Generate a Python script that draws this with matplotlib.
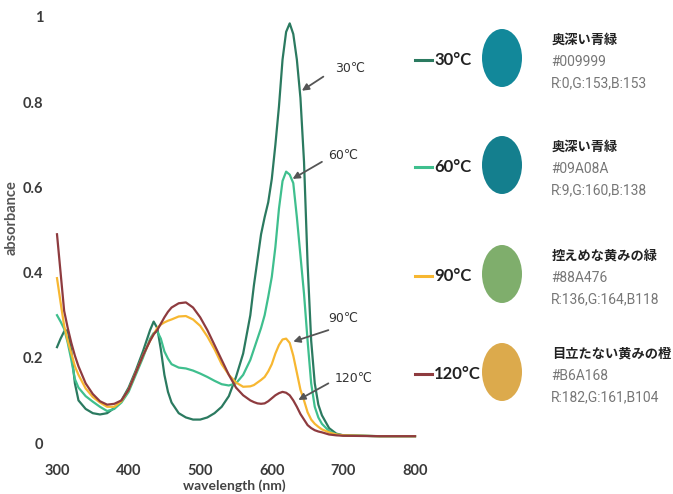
import matplotlib
matplotlib.use("Agg")
import matplotlib.pyplot as plt
from matplotlib.patches import Ellipse

# ---------------- data ----------------
wavelength = [300, 305, 310, 315, 320, 325, 330, 340, 350, 360, 370, 380, 390, 400, 410, 420,
              430, 435, 440, 445, 450, 455, 460, 470, 480, 490, 500, 510, 520, 530, 540, 550,
              560, 570, 575, 580, 585, 590, 595, 600, 605, 610, 615, 620, 625, 630, 635, 640,
              645, 650, 655, 660, 665, 670, 680, 690, 700, 750, 800]

abs_30 = [0.225, 0.245, 0.262, 0.265, 0.215, 0.14, 0.10, 0.08, 0.07, 0.067, 0.07, 0.082, 0.10, 0.13, 0.17, 0.215,
          0.265, 0.285, 0.27, 0.22, 0.16, 0.12, 0.095, 0.07, 0.06, 0.055, 0.055, 0.06, 0.07, 0.085, 0.11, 0.155,
          0.21, 0.30, 0.37, 0.43, 0.49, 0.53, 0.565, 0.62, 0.70, 0.79, 0.90, 0.965, 0.985, 0.96, 0.90, 0.81,
          0.66, 0.42, 0.24, 0.14, 0.09, 0.065, 0.035, 0.022, 0.018, 0.016, 0.016]

abs_60 = [0.30, 0.285, 0.268, 0.235, 0.195, 0.15, 0.13, 0.11, 0.097, 0.085, 0.075, 0.08, 0.095, 0.12, 0.16, 0.20,
          0.245, 0.258, 0.262, 0.245, 0.215, 0.198, 0.185, 0.177, 0.175, 0.17, 0.163, 0.155, 0.146, 0.138, 0.135, 0.14,
          0.16, 0.195, 0.22, 0.245, 0.27, 0.30, 0.343, 0.39, 0.46, 0.55, 0.615, 0.637, 0.63, 0.61, 0.53, 0.44,
          0.35, 0.24, 0.14, 0.085, 0.06, 0.045, 0.028, 0.02, 0.018, 0.016, 0.016]

abs_90 = [0.387, 0.33, 0.275, 0.24, 0.21, 0.18, 0.16, 0.128, 0.108, 0.095, 0.085, 0.085, 0.098, 0.125, 0.165, 0.205,
          0.24, 0.255, 0.27, 0.278, 0.283, 0.287, 0.29, 0.297, 0.298, 0.29, 0.275, 0.25, 0.22, 0.185, 0.16, 0.142,
          0.132, 0.133, 0.136, 0.142, 0.148, 0.155, 0.168, 0.185, 0.21, 0.23, 0.243, 0.245, 0.235, 0.205, 0.165, 0.125,
          0.10, 0.072, 0.055, 0.045, 0.038, 0.032, 0.025, 0.02, 0.018, 0.016, 0.016]

abs_120 = [0.49, 0.40, 0.31, 0.27, 0.235, 0.205, 0.18, 0.14, 0.115, 0.098, 0.09, 0.092, 0.10, 0.125, 0.165, 0.205,
           0.24, 0.255, 0.265, 0.28, 0.295, 0.308, 0.318, 0.328, 0.33, 0.318, 0.295, 0.265, 0.23, 0.195, 0.16, 0.13,
           0.112, 0.10, 0.096, 0.093, 0.092, 0.093, 0.098, 0.105, 0.112, 0.117, 0.12, 0.118, 0.112, 0.10, 0.085, 0.068,
           0.055, 0.042, 0.035, 0.03, 0.027, 0.025, 0.02, 0.018, 0.017, 0.016, 0.016]

temp_labels = ["30°C", "60°C", "90°C", "120°C"]
annot_labels = ["30℃", "60℃", "90℃", "120℃"]
line_colors = ["#2b7a60", "#3fbf8e", "#f7b731", "#8e3b3f"]
swatch_colors = ["#12889a", "#147f8e", "#7fae6c", "#dcaa4c"]
color_names = ["奥深い青緑", "奥深い青緑", "控えめな黄みの緑", "目立たない黄みの橙"]
hex_codes = ["#009999", "#09A08A", "#88A476", "#B6A168"]
rgb_texts = ["R:0,G:153,B:153", "R:9,G:160,B:138", "R:136,G:164,B118", "R:182,G:161,B104"]

x_ticks = [300, 400, 500, 600, 700, 800]
y_ticks = [0, 0.2, 0.4, 0.6, 0.8, 1]
y_ticklabels = ["0", "0.2", "0.4", "0.6", "0.8", "1"]

# ---------------- figure ----------------
W, H = 673, 494
fig = plt.figure(figsize=(W / 100, H / 100), dpi=100)
fig.patch.set_facecolor("white")

def fx(px):
    return px / W

def fy(py):
    return 1 - py / H

ax = fig.add_axes([fx(57), fy(443), fx(415) - fx(57), fy(17) - fy(443)])
ax.set_xlim(300, 800)
ax.set_ylim(0, 1)
for s in ax.spines.values():
    s.set_visible(False)

series = [abs_30, abs_60, abs_90, abs_120]
for vals, col in zip(series, line_colors):
    ax.plot(wavelength, vals, color=col, lw=1.6, clip_on=False, solid_joinstyle="round")

tick_font = dict(family=["Lato", "DejaVu Sans"], fontsize=10.5, fontweight="bold", color="#3a3a3a")
ax.set_xticks(x_ticks)
ax.set_xticklabels([str(t) for t in x_ticks], **tick_font)
ax.set_yticks(y_ticks)
ax.set_yticklabels(y_ticklabels, **tick_font)
ax.tick_params(axis="both", length=0)
ax.tick_params(axis="x", pad=15)
ax.tick_params(axis="y", pad=10)

fig.text(fx(12), fy(218), "absorbance", rotation=90, ha="center", va="center",
         family=["Lato", "DejaVu Sans"], fontsize=10.5, fontweight="bold", color="#555555")
fig.text(fx(234), fy(486), "wavelength (nm)", ha="center", va="center",
         family=["Lato", "DejaVu Sans"], fontsize=10, fontweight="bold", color="#444444")

# annotations (label position, arrow tail, arrow head) in data coords
annots = [((709, 0.88), (672, 0.86), (642, 0.827)),
          ((700, 0.676), (670, 0.66), (629, 0.62)),
          ((700, 0.293), (679, 0.265), (630, 0.238)),
          ((714, 0.152), (679, 0.14), (637, 0.101))]
for lab, (tp, tail, head) in zip(annot_labels, annots):
    ax.text(tp[0], tp[1], lab, ha="center", va="center", fontsize=9,
            family=["DejaVu Sans"], color="#333333")
    ax.annotate("", xy=head, xytext=tail,
                arrowprops=dict(arrowstyle="-|>", color="#555555", lw=1.3,
                                mutation_scale=10, shrinkA=0, shrinkB=0))

# right-side legend with colour swatches
row_y = [60, 167, 276, 374]
for i in range(4):
    y = row_y[i]
    fig.add_artist(plt.Line2D([fx(415), fx(432)], [fy(y), fy(y)], color=line_colors[i], lw=2.2,
                              transform=fig.transFigure))
    fig.text(fx(434), fy(y), temp_labels[i], ha="left", va="center",
             family=["Lato", "DejaVu Sans"], fontsize=12, fontweight="bold", color="#222222")
    fig.add_artist(Ellipse((fx(502), fy(y - 2)), 40 / W, 58 / H, transform=fig.transFigure,
                           facecolor=swatch_colors[i], edgecolor="none"))
    fig.text(fx(552), fy(y - 20), color_names[i], ha="left", va="center",
             family=["Noto Sans CJK JP", "DejaVu Sans"], fontsize=9.5, fontweight="bold", color="#222222")
    fig.text(fx(551), fy(y + 2), hex_codes[i], ha="left", va="center",
             family=["Roboto", "DejaVu Sans"], fontsize=10, color="#777777")
    fig.text(fx(551), fy(y + 23), rgb_texts[i], ha="left", va="center",
             family=["Roboto", "DejaVu Sans"], fontsize=10, color="#777777")

fig.savefig("out.png", dpi=100, facecolor="white")
